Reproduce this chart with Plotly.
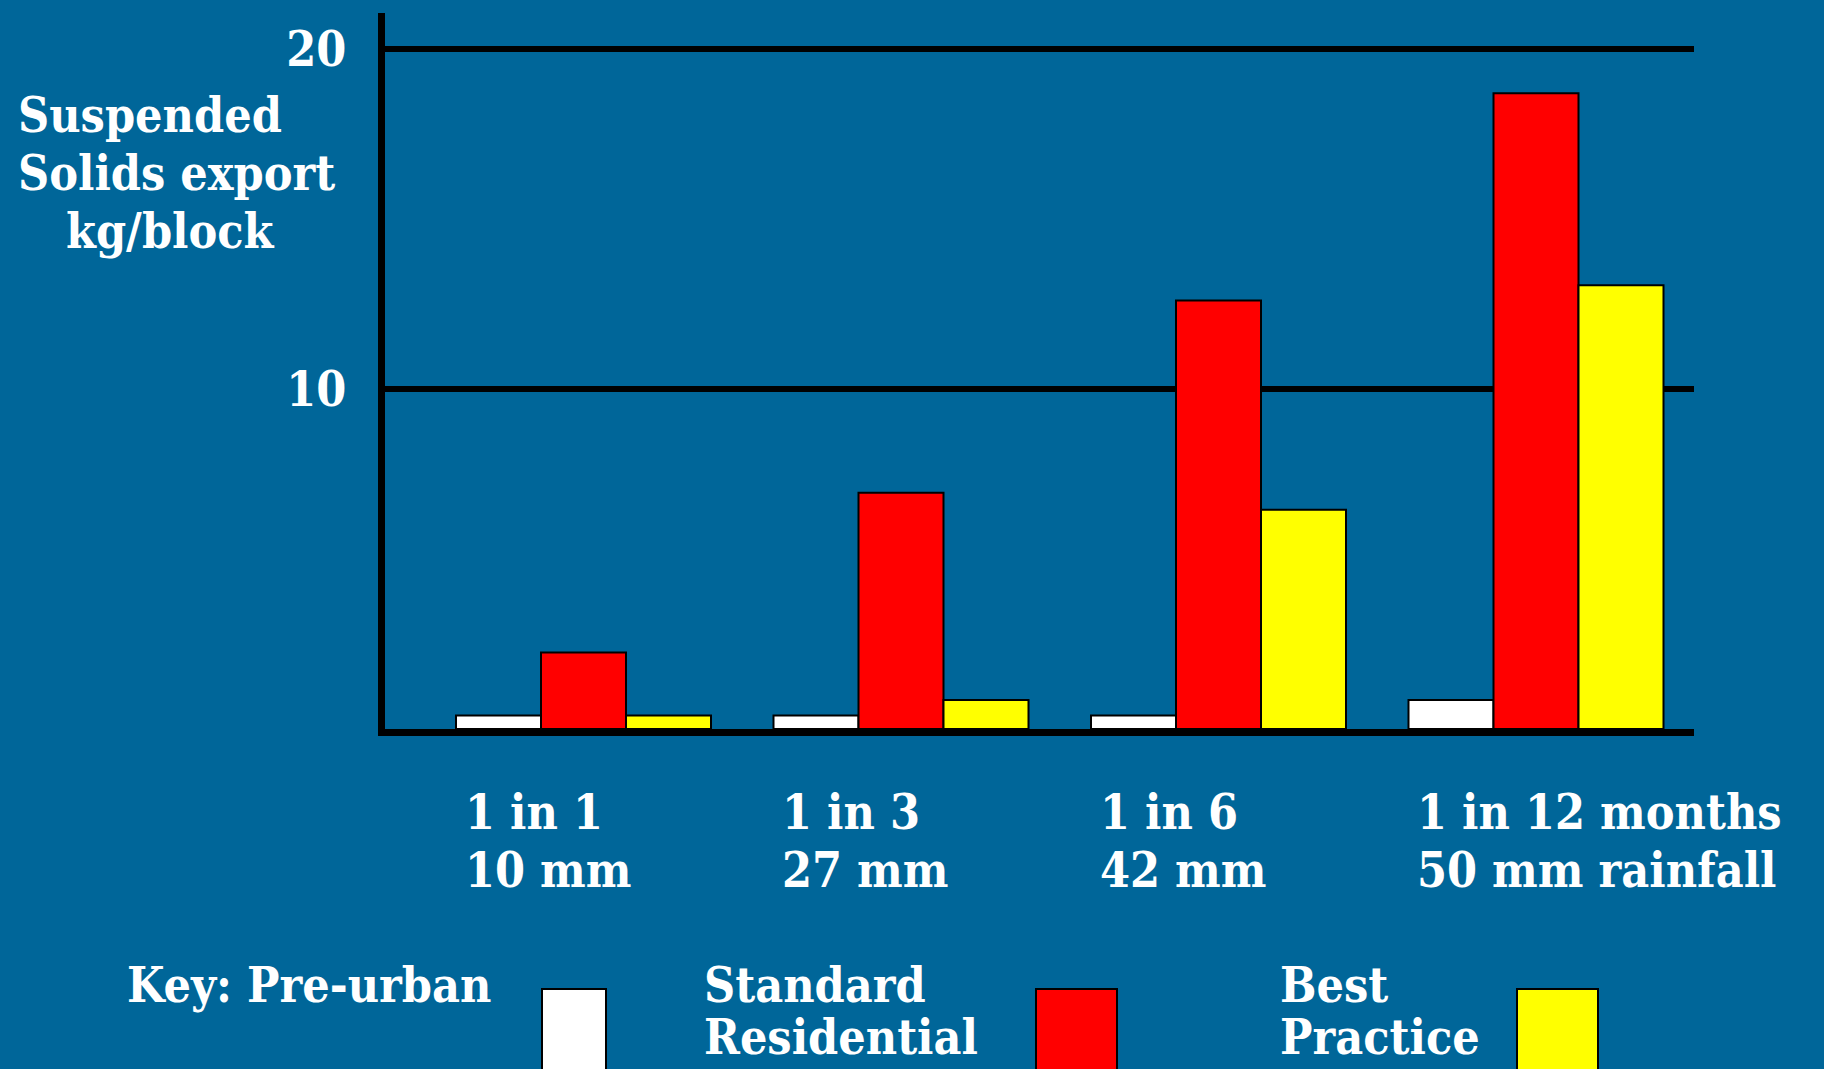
import plotly.graph_objects as go

# ---------------- data ----------------
events = ["1 in 1", "1 in 3", "1 in 6", "1 in 12 months"]
rainfall = ["10 mm", "27 mm", "42 mm", "50 mm rainfall"]
categories = [e + " / " + r for e, r in zip(events, rainfall)]

series_names = ["Pre-urban", "Standard Residential", "Best Practice"]
pre_urban = [0.4, 0.4, 0.4, 0.85]
standard_residential = [2.25, 6.95, 12.6, 18.7]
best_practice = [0.4, 0.85, 6.45, 13.05]

y_tick_vals = [10, 20]
y_tick_text = ["10", "20"]
y_title_lines = ["Suspended", "Solids export", "kg/block"]
legend_lines = [["Key: Pre-urban"], ["Standard", "Residential"], ["Best", "Practice"]]

# ---------------- styles ----------------
BG = "#006699"
colors = ["#FFFFFF", "#FF0000", "#FFFF00"]
FONT = "DejaVu Serif Condensed, DejaVu Serif, Liberation Serif, serif"
FS = 48
W, H = 1824, 1069
PL, PR, PT, PB = 385, 1694, 13, 729
PW, PH = PR - PL, PB - PT
PX_PER_UNIT = 34.0
PX_PER_CAT = 317.5
CAT0_X = 583.5


def px(X):
    return (X - PL) / PW


def py(Y):
    return (PB - Y) / PH


fig = go.Figure()
for name, vals, col in zip(series_names, [pre_urban, standard_residential, best_practice], colors):
    fig.add_trace(go.Bar(
        x=categories, y=vals, name=name,
        marker=dict(color=col, line=dict(color="black", width=2)),
        showlegend=False,
    ))

annotations = []
font = dict(family=FONT, size=FS, color="white", weight="bold")

# y-axis title lines
ytitle_pos = [(16, 115), (16, 173), (64, 231)]
for line, (X, Y) in zip(y_title_lines, ytitle_pos):
    annotations.append(dict(text=line, xref="paper", yref="paper", x=px(X), y=py(Y),
                            xanchor="left", yanchor="middle", showarrow=False, font=font))

# category labels (two lines each)
for i, (e, r) in enumerate(zip(events, rainfall)):
    annotations.append(dict(text=e, xref="x", yref="paper", x=i, y=py(812),
                            xanchor="left", yanchor="middle", xshift=-121, showarrow=False, font=font))
    annotations.append(dict(text=r, xref="x", yref="paper", x=i, y=py(870),
                            xanchor="left", yanchor="middle", xshift=-121, showarrow=False, font=font))

# key
key_text_x = [125, 702, 1278]
key_box = [(542, 606), (1036, 1117), (1517, 1598)]
shapes = []
for lines, tx, (bx0, bx1), col in zip(legend_lines, key_text_x, key_box, colors):
    for j, line in enumerate(lines):
        annotations.append(dict(text=line, xref="paper", yref="paper", x=px(tx), y=py(985 + 52 * j),
                                xanchor="left", yanchor="middle", showarrow=False, font=font))
    shapes.append(dict(type="rect", xref="paper", yref="paper", x0=px(bx0), x1=px(bx1),
                       y0=py(989), y1=py(1080), fillcolor=col, line=dict(color="black", width=2)))

x_min = (PL - CAT0_X) / PX_PER_CAT
x_max = (PR - CAT0_X) / PX_PER_CAT
bar_w = 85 / PX_PER_CAT

fig.update_layout(
    width=W, height=H,
    margin=dict(l=PL, r=W - PR, t=PT, b=H - PB, pad=0),
    paper_bgcolor=BG, plot_bgcolor=BG,
    barmode="group", bargap=1 - 3 * bar_w, bargroupgap=0,
    annotations=annotations, shapes=shapes,
    xaxis=dict(type="category", range=[x_min, x_max], showticklabels=False, showgrid=False,
               zeroline=False, showline=True, linecolor="black", linewidth=7, ticks=""),
    yaxis=dict(range=[0, PH / PX_PER_UNIT], tickvals=y_tick_vals, ticktext=y_tick_text,
               showgrid=True, gridcolor="black", gridwidth=6, zeroline=False,
               showline=True, linecolor="black", linewidth=7, ticks="",
               tickfont=font, ticklabelstandoff=22),
)

fig.write_html("out.html")
